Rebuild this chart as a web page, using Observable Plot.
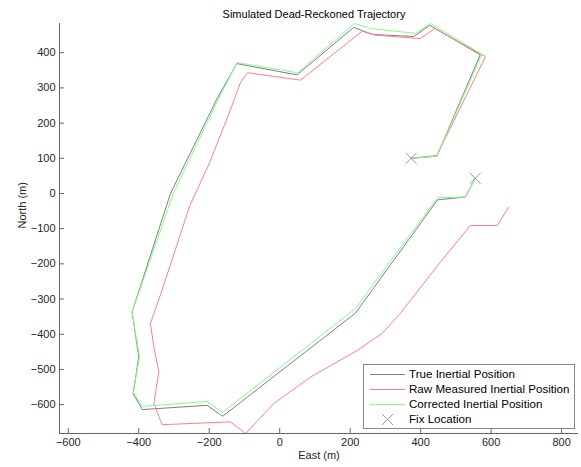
<!DOCTYPE html>
<html><head><meta charset="utf-8">
<script src="https://cdn.jsdelivr.net/npm/d3@7"></script>
<script src="https://cdn.jsdelivr.net/npm/@observablehq/plot@0.6"></script>
<style>body{margin:0;background:#fff} svg{display:block}</style>
</head><body><div id="chart"></div>
<script>
const title = "Simulated Dead-Reckoned Trajectory";
const xLabel = "East (m)";
const yLabel = "North (m)";
const xTicks = [-600, -400, -200, 0, 200, 400, 600, 800];
const yTicks = [-600, -500, -400, -300, -200, -100, 0, 100, 200, 300, 400];
const xDomain = [-625, 848];
const yDomain = [-682, 483];

const seriesNames = ["True Inertial Position", "Raw Measured Inertial Position", "Corrected Inertial Position", "Fix Location"];

const trueEast  = [373, 446, 569, 426, 380, 263, 210, 49, -122, -178, -310, -419, -400, -416, -390, -206, -162, 215, 448, 527, 555];
const trueNorth = [100, 106, 394, 478, 446, 452, 472, 337, 369, 269, 0, -337, -465, -569, -614, -602, -633, -340, -18, -10, 43];

const rawEast  = [373, 446, 584, 440, 399, 271, 234, 59, -91, -111, -144, -200, -255, -334, -367, -357, -343, -357, -334, -140, -97, -17, 87, 220, 290, 342, 456, 541, 617, 650];
const rawNorth = [100, 108, 389, 469, 440, 450, 461, 322, 343, 316, 227, 85, -34, -275, -370, -436, -507, -597, -657, -649, -682, -597, -522, -446, -398, -341, -195, -91, -91, -39];

const corrEast  = [373, 446, 574, 428, 385, 257, 212, 51, -121, -176, -302, -419, -398, -416, -390, -206, -162, 215, 448, 527, 555];
const corrNorth = [100, 106, 396, 483, 455, 469, 483, 343, 372, 264, 0, -337, -465, -564, -605, -591, -622, -327, -12, -10, 43];

const fixEast  = [373, 555];
const fixNorth = [100, 43];

const colors = ["#7f7f7f", "#ff7f7f", "#7fff7f", "#999999"];

const toRows = (xs, ys) => xs.map((x, i) => ({x, y: ys[i]}));
const trueRows = toRows(trueEast, trueNorth);
const rawRows = toRows(rawEast, rawNorth);
const corrRows = toRows(corrEast, corrNorth);
const fixRows = toRows(fixEast, fixNorth);

const plot = Plot.plot({
  width: 581, height: 467,
  marginLeft: 59, marginRight: 3, marginTop: 23, marginBottom: 34,
  style: {fontFamily: "'Liberation Sans', Arial, sans-serif", fontSize: "11px", background: "#fff", color: "#262626"},
  x: {domain: xDomain},
  y: {domain: yDomain},
  marks: [
    Plot.line(trueRows, {x: "x", y: "y", stroke: colors[0], strokeWidth: 1, clip: true}),
    Plot.line(rawRows, {x: "x", y: "y", stroke: colors[1], strokeWidth: 1, clip: true}),
    Plot.line(corrRows, {x: "x", y: "y", stroke: colors[2], strokeWidth: 1, clip: true}),
    Plot.dot(fixRows, {x: "x", y: "y", symbol: "times", r: 5, stroke: colors[3], strokeWidth: 1}),
    Plot.ruleX([xDomain[0]], {stroke: "#666"}),
    Plot.ruleY([yDomain[0]], {stroke: "#666"}),
    Plot.axisX(xTicks, {tickSize: -5, tickPadding: 10, stroke: "#666", fill: "#262626", label: null}),
    Plot.axisY(yTicks, {tickSize: -5, tickPadding: 9, stroke: "#666", fill: "#262626", label: null}),
    Plot.text([title], {frameAnchor: "top", dy: -13, dx: -5, text: d => d, fontSize: 11, fill: "#000"}),
    Plot.text([xLabel], {frameAnchor: "bottom", dy: 25, text: d => d, fontSize: 11, fill: "#262626"}),
    Plot.text([yLabel], {frameAnchor: "left", dx: -37, rotate: -90, text: d => d, fontSize: 11, fill: "#262626"})
  ]
});

// Legend (MATLAB-style box, lower right inside axes)
const svg = d3.select(plot);
const lg = svg.append("g").attr("font-family", "'Liberation Sans', Arial, sans-serif").attr("font-size", 11.6).attr("text-anchor", "start");
const bx = 363, by = 364, bw = 211, bh = 64;
lg.append("rect").attr("x", bx + 0.5).attr("y", by + 0.5).attr("width", bw).attr("height", bh)
  .attr("fill", "#fff").attr("stroke", "#888");
seriesNames.forEach((name, i) => {
  const cy = by + 10 + i * 15;
  if (i < 3) {
    lg.append("line").attr("x1", bx + 7).attr("x2", bx + 42).attr("y1", cy + 0.5).attr("y2", cy + 0.5)
      .attr("stroke", colors[i]).attr("stroke-width", 1);
  } else {
    const cx = bx + 24.5, s = 5.5;
    lg.append("path").attr("d", `M${cx - s},${cy - s + 0.5}L${cx + s},${cy + s + 0.5}M${cx - s},${cy + s + 0.5}L${cx + s},${cy - s + 0.5}`)
      .attr("stroke", colors[3]).attr("fill", "none");
  }
  lg.append("text").attr("x", bx + 46).attr("y", cy).attr("dy", "0.35em").attr("text-anchor", "start").attr("fill", "#000").text(name);
});

document.getElementById("chart").appendChild(plot);
</script>
</body></html>
